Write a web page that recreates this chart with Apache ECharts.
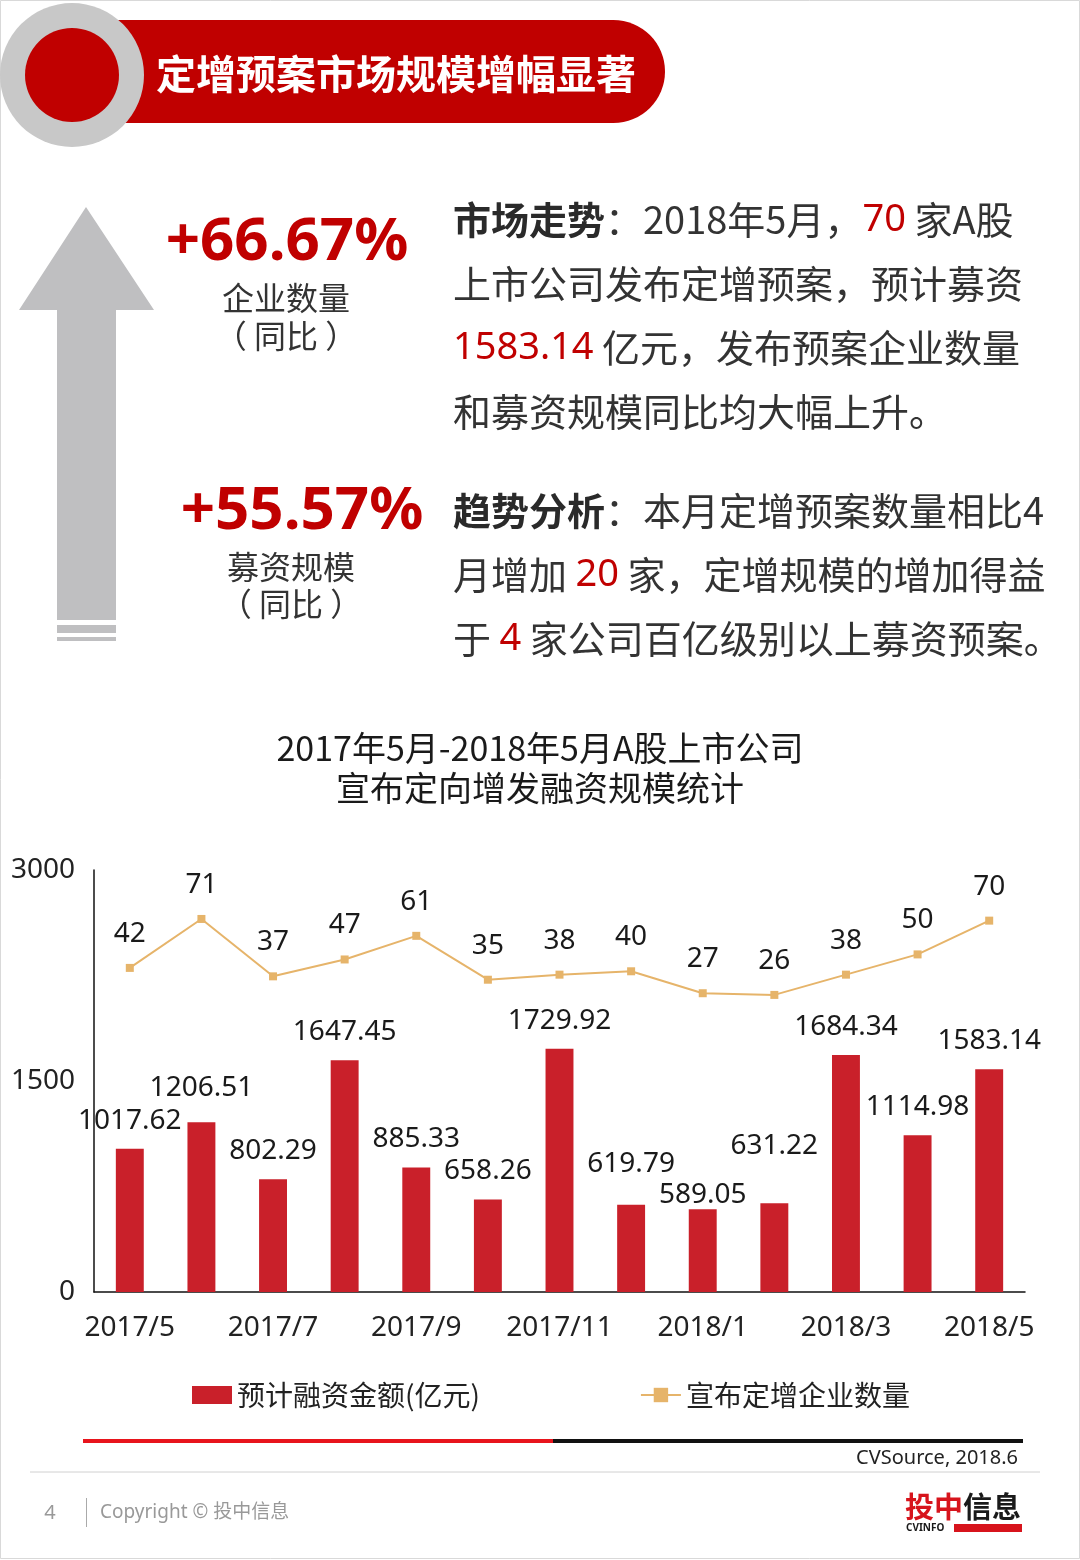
<!DOCTYPE html>
<html>
<head>
<meta charset="utf-8">
<script src="https://cdn.jsdelivr.net/npm/echarts@6/dist/echarts.min.js"></script>
<style>
html,body{margin:0;padding:0;background:#fff;}
#main{width:1080px;height:1560px;}
</style>
</head>
<body>
<div id="main"></div>
<script>
// ---- data ----
const categories = ['2017/5','2017/6','2017/7','2017/8','2017/9','2017/10','2017/11','2017/12','2018/1','2018/2','2018/3','2018/4','2018/5'];
const fundingAmount = [1017.62, 1206.51, 802.29, 1647.45, 885.33, 658.26, 1729.92, 619.79, 589.05, 631.22, 1684.34, 1114.98, 1583.14];
const companyCount = [42, 71, 37, 47, 61, 35, 38, 40, 27, 26, 38, 50, 70];
const leftAxisTicks = [0, 1500, 3000];
const seriesNames = ['预计融资金额(亿元)', '宣布定增企业数量'];

// label placement tweaks (style only)
const barLabelDistance = [14, 20, 14, 14, 14, 14, 14, 27, 0, 43, 14, 14, 14];

const RED = '#C00000';
const BAR = '#C9202A';
const LINE = '#E6B46A';
const TXT = '#333333';
const CJK = '"Noto Sans CJK SC", "Noto Sans", sans-serif';
const NUM = '"Noto Sans", "Noto Sans CJK SC", sans-serif';

const chart = echarts.init(document.getElementById('main'), null, {renderer: 'canvas'});

function txt(x, y, text, opt) {
  return {
    type: 'text', x: x, y: y, z: 10,
    style: Object.assign({
      text: text, fill: TXT, fontSize: 38, fontFamily: CJK,
      align: 'left', verticalAlign: 'middle'
    }, opt || {})
  };
}

const richBase = {
  n: {fontSize: 38, fontFamily: CJK, fill: '#333333', color: '#333333'},
  b: {fontSize: 38, fontFamily: CJK, fontWeight: 'bold', fill: '#2a2a2a', color: '#2a2a2a'},
  r: {fontSize: 38, fontFamily: NUM, fill: RED, color: RED}
};

const elements = [
  // page frame
  {type: 'rect', shape: {x: 0.5, y: 0.5, width: 1079, height: 1558}, style: {fill: null, stroke: '#d9d9d9', lineWidth: 1}, z: 1},
  // header
  {type: 'rect', shape: {x: 100, y: 20, width: 565, height: 103, r: [0, 52, 52, 0]}, style: {fill: RED}, z: 2},
  {type: 'circle', shape: {cx: 72, cy: 75, r: 72}, style: {fill: '#C8C8C8'}, z: 3},
  {type: 'circle', shape: {cx: 72, cy: 75, r: 47}, style: {fill: RED}, z: 4},
  txt(156, 74, '定增预案市场规模增幅显著', {fill: '#ffffff', fontSize: 40, fontWeight: 'bold'}),
  // arrow
  {type: 'polygon', shape: {points: [[86, 207], [154, 310], [116, 310], [116, 620], [57, 620], [57, 310], [19, 310]]}, style: {fill: '#BFBFC1'}, z: 2},
  {type: 'rect', shape: {x: 57, y: 625, width: 59, height: 8}, style: {fill: '#BFBFC1'}, z: 2},
  {type: 'rect', shape: {x: 57, y: 637, width: 59, height: 4}, style: {fill: '#BFBFC1'}, z: 2},
  // percentages
  txt(287, 243, '+66.67%', {fill: RED, fontSize: 60, fontWeight: 'bold', fontFamily: NUM, align: 'center'}),
  txt(286, 298, '企业数量', {fontSize: 32, align: 'center'}),
  txt(286, 336, '（ 同比 ）', {fontSize: 32, align: 'center'}),
  txt(302, 512, '+55.57%', {fill: RED, fontSize: 60, fontWeight: 'bold', fontFamily: NUM, align: 'center'}),
  txt(291, 567, '募资规模', {fontSize: 32, align: 'center'}),
  txt(291, 604, '（ 同比 ）', {fontSize: 32, align: 'center'}),
  // right text block 1
  txt(453, 220, '{b|市场走势}{n|：2018年5月，}{r|70}{n| 家A股}', {rich: richBase}),
  txt(453, 284, '{n|上市公司发布定增预案，预计募资}', {rich: richBase}),
  txt(453, 348, '{r|1583.14}{n| 亿元，发布预案企业数量}', {rich: richBase}),
  txt(453, 412, '{n|和募资规模同比均大幅上升。}', {rich: richBase}),
  // right text block 2
  txt(453, 511, '{b|趋势分析}{n|：本月定增预案数量相比4}', {rich: richBase}),
  txt(453, 575, '{n|月增加 }{r|20}{n| 家，定增规模的增加得益}', {rich: richBase}),
  txt(453, 639, '{n|于 }{r|4}{n| 家公司百亿级别以上募资预案。}', {rich: richBase}),
  // source rule
  {type: 'rect', shape: {x: 83, y: 1439, width: 470, height: 4}, style: {fill: '#E8141C'}, z: 2},
  {type: 'rect', shape: {x: 553, y: 1439, width: 470, height: 4}, style: {fill: '#111111'}, z: 2},
  txt(1018, 1458, 'CVSource, 2018.6', {fontSize: 20, fontFamily: NUM, fill: '#222', align: 'right'}),
  {type: 'line', shape: {x1: 30, y1: 1472, x2: 1040, y2: 1472}, style: {stroke: '#d0d0d0', lineWidth: 1}, z: 2},
  // footer
  txt(50, 1513, '4', {fontSize: 20, fontFamily: NUM, fill: '#999', align: 'center'}),
  {type: 'line', shape: {x1: 86.5, y1: 1498, x2: 86.5, y2: 1527}, style: {stroke: '#aaa', lineWidth: 1}, z: 2},
  txt(100, 1513, 'Copyright © 投中信息', {fontSize: 19, fontFamily: NUM, fill: '#999'}),
  txt(905, 1507, '{r|投中}{k|信息}', {rich: {
    r: {fontSize: 29, fontWeight: 'bold', fontFamily: CJK, fill: '#D7141C', color: '#D7141C'},
    k: {fontSize: 29, fontWeight: 'bold', fontFamily: CJK, fill: '#1a1a1a', color: '#1a1a1a'}
  }}),
  txt(906, 1528, 'CVINFO', {fontSize: 10, fontWeight: 'bold', fontFamily: NUM, fill: '#1a1a1a'}),
  {type: 'rect', shape: {x: 954, y: 1524, width: 68, height: 8}, style: {fill: '#D7141C'}, z: 2}
];

const option = {
  backgroundColor: '#ffffff',
  animation: false,
  textStyle: {fontFamily: NUM},
  title: {
    text: '2017年5月-2018年5月A股上市公司\n宣布定向增发融资规模统计',
    left: 'center',
    top: 723,
    textStyle: {fontSize: 34, fontWeight: 'normal', color: '#1a1a1a', fontFamily: CJK, lineHeight: 40}
  },
  legend: {
    left: 187,
    top: 1376,
    itemWidth: 40,
    itemHeight: 18,
    itemGap: 160,
    textStyle: {fontSize: 28, color: '#222', fontFamily: CJK},
    data: [{name: seriesNames[0], icon: 'rect'}, {name: seriesNames[1]}]
  },
  grid: {left: 94, right: 55, top: 870, bottom: 268, containLabel: false},
  xAxis: {
    type: 'category',
    data: categories,
    axisLine: {show: true, lineStyle: {color: '#111', width: 1.5}},
    axisTick: {show: false},
    axisLabel: {interval: 1, fontSize: 28, color: '#222', margin: 22, fontFamily: NUM}
  },
  yAxis: [
    {
      type: 'value', min: leftAxisTicks[0], max: leftAxisTicks[2], interval: leftAxisTicks[1],
      axisLine: {show: true, lineStyle: {color: '#111', width: 1.5}},
      axisTick: {show: false},
      splitLine: {show: false},
      axisLabel: {fontSize: 28, color: '#222', margin: 19, fontFamily: NUM, formatter: v => String(v)}
    },
    {
      type: 'value', min: -150, max: 100, show: false, splitLine: {show: false}
    }
  ],
  series: [
    {
      name: seriesNames[0],
      type: 'bar',
      barWidth: '39%',
      itemStyle: {color: BAR},
      data: fundingAmount.map((v, i) => ({value: v, label: {distance: barLabelDistance[i]}})),
      label: {show: true, position: 'top', fontSize: 28, color: '#1a1a1a', fontFamily: NUM,
        formatter: p => p.value.toFixed(2)},
      z: 2
    },
    {
      name: seriesNames[1],
      type: 'line',
      yAxisIndex: 1,
      data: companyCount,
      symbol: 'rect',
      symbolSize: 8,
      lineStyle: {color: LINE, width: 2},
      itemStyle: {color: LINE},
      label: {show: true, position: 'top', distance: 16, fontSize: 28, color: '#1a1a1a', fontFamily: NUM},
      z: 3
    }
  ],
  graphic: {elements: elements}
};
chart.setOption(option);
</script>
</body>
</html>
